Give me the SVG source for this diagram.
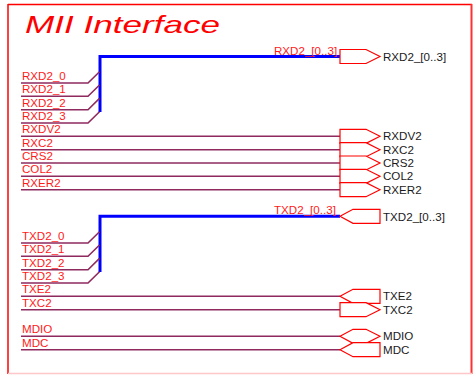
<svg xmlns="http://www.w3.org/2000/svg" width="473" height="375" viewBox="0 0 473 375">
<style>
text{font-family:"Liberation Sans",Arial,sans-serif;font-size:11.6px}
.lbl{fill:#FF1A1A}
.pl{fill:#1A1A1A}
.net{stroke:#8E2A5E;stroke-width:1.6;fill:none}
.bus{stroke:#0000FF;stroke-width:3;fill:none}
.port{stroke:#FF0000;stroke-width:1.2;fill:#FFFFFF}
</style>
<rect width="473" height="375" fill="#FFFFFF"/>
<g id="frame">
<line x1="8" y1="4.5" x2="472" y2="4.5" stroke="#FF0000" stroke-width="1.5"/>
<line x1="8" y1="4" x2="8" y2="374" stroke="#FF0000" stroke-width="1.5"/>
<line x1="471.5" y1="4" x2="471.5" y2="374" stroke="#FF3030" stroke-width="2"/>
<line x1="8" y1="373.5" x2="472" y2="373.5" stroke="#FFC8C8" stroke-width="1.5"/>
<text x="25" y="33" font-style="italic" style="font-size:24px" fill="#FF0000" textLength="195" lengthAdjust="spacingAndGlyphs">MII Interface</text>
</g>
<g id="connectors">
<path class="bus" d="M340,56.5 H100 V112"/>
<path class="bus" d="M340,216.3 H100 V272"/>
<path class="net" d="M21,83 H88 L99.5,71.7"/>
<path class="net" d="M21,96.3 H88 L99.5,85"/>
<path class="net" d="M21,109.7 H88 L99.5,98.4"/>
<path class="net" d="M21,123 H88 L99.5,111.7"/>
<path class="net" d="M21,136.3 H340"/>
<path class="net" d="M21,149.7 H340"/>
<path class="net" d="M21,163 H340"/>
<path class="net" d="M21,176.3 H340"/>
<path class="net" d="M21,189.7 H340"/>
<path class="net" d="M21,243 H88 L99.5,231.7"/>
<path class="net" d="M21,256.3 H88 L99.5,245"/>
<path class="net" d="M21,269.7 H88 L99.5,258.4"/>
<path class="net" d="M21,283 H88 L99.5,271.7"/>
<path class="net" d="M21,296.3 H340"/>
<path class="net" d="M21,309.7 H340"/>
<path class="net" d="M21,336.3 H340"/>
<path class="net" d="M21,349.7 H340"/>
</g>
<g id="net-labels">
<text class="lbl" x="274" y="54.5">RXD2_[0..3]</text>
<text class="lbl" x="274" y="214">TXD2_[0..3]</text>
<text class="lbl" x="22" y="80">RXD2_0</text>
<text class="lbl" x="22" y="93.3">RXD2_1</text>
<text class="lbl" x="22" y="106.7">RXD2_2</text>
<text class="lbl" x="22" y="120">RXD2_3</text>
<text class="lbl" x="22" y="133.3">RXDV2</text>
<text class="lbl" x="22" y="146.7">RXC2</text>
<text class="lbl" x="22" y="160">CRS2</text>
<text class="lbl" x="22" y="173.3">COL2</text>
<text class="lbl" x="22" y="186.7">RXER2</text>
<text class="lbl" x="22" y="240">TXD2_0</text>
<text class="lbl" x="22" y="253.3">TXD2_1</text>
<text class="lbl" x="22" y="266.7">TXD2_2</text>
<text class="lbl" x="22" y="280">TXD2_3</text>
<text class="lbl" x="22" y="293.3">TXE2</text>
<text class="lbl" x="22" y="306.7">TXC2</text>
<text class="lbl" x="22" y="333.3">MDIO</text>
<text class="lbl" x="22" y="346.7">MDC</text>
</g>
<g id="port-RXD2">
<path class="port" d="M340,49.5 H366 L380,56.5 L366,63.5 H340 Z"/>
<text class="pl" x="383" y="61">RXD2_[0..3]</text>
</g>
<g id="port-RXDV2">
<path class="port" d="M340,129.3 H366 L380,136.3 L366,143.3 H340 Z"/>
<text class="pl" x="383" y="140.3">RXDV2</text>
</g>
<g id="port-RXC2">
<path class="port" d="M340,142.7 H366 L380,149.7 L366,156.7 H340 Z"/>
<text class="pl" x="383" y="153.7">RXC2</text>
</g>
<g id="port-CRS2">
<path class="port" d="M340,156 H366 L380,163 L366,170 H340 Z"/>
<text class="pl" x="383" y="167">CRS2</text>
</g>
<g id="port-COL2">
<path class="port" d="M340,169.3 H366 L380,176.3 L366,183.3 H340 Z"/>
<text class="pl" x="383" y="180.3">COL2</text>
</g>
<g id="port-RXER2">
<path class="port" d="M340,182.7 H366 L380,189.7 L366,196.7 H340 Z"/>
<text class="pl" x="383" y="193.7">RXER2</text>
</g>
<g id="port-TXD2">
<path class="port" d="M340,216.3 L353,209.3 H380 V223.3 H353 Z"/>
<text class="pl" x="383" y="220.5">TXD2_[0..3]</text>
</g>
<g id="port-TXE2">
<path class="port" d="M340,296.3 L353,289.3 H380 V303.3 H353 Z"/>
<text class="pl" x="383" y="300.3">TXE2</text>
</g>
<g id="port-TXC2">
<path class="port" d="M340,302.7 H366 L380,309.7 L366,316.7 H340 Z"/>
<text class="pl" x="383" y="313.7">TXC2</text>
</g>
<g id="port-MDIO">
<path class="port" d="M340,336.3 L353,329.3 H366 L380,336.3 L366,343.3 H353 Z"/>
<text class="pl" x="383" y="340.3">MDIO</text>
</g>
<g id="port-MDC">
<path class="port" d="M340,349.7 L353,342.7 H380 V356.7 H353 Z"/>
<text class="pl" x="383" y="353.7">MDC</text>
</g>
</svg>
